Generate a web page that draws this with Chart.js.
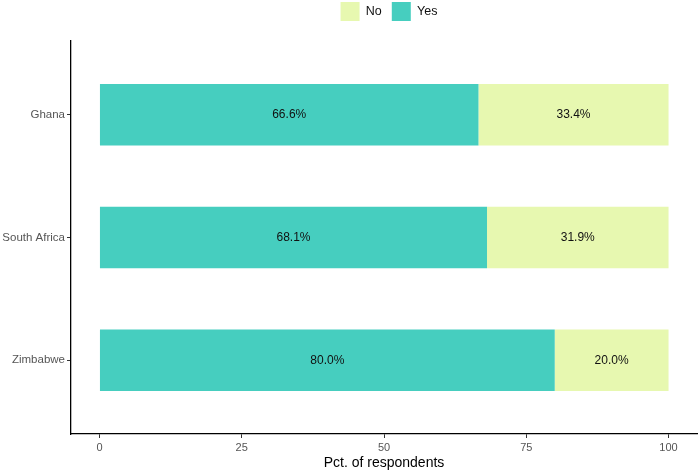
<!DOCTYPE html>
<html lang="en">
<head>
    <meta charset="UTF-8">
    <title>Pct. of respondents</title>
    <script src="https://cdn.jsdelivr.net/npm/chart.js"></script>
    <style>
        html, body { margin: 0; padding: 0; background: #fff; }
        #wrap { width: 699px; height: 470px; }
    </style>
</head>
<body>
    <div id="wrap"><canvas id="chart"></canvas></div>

    <script>
        // data
        const countries = ['Ghana', 'South Africa', 'Zimbabwe'];
        const yesPct = [66.6, 68.1, 80.0];
        const noPct = [33.4, 31.9, 20.0];
        const xTicks = [0, 25, 50, 75, 100];

        const yesColor = '#46CEBF';
        const noColor = '#E7F8B0';
        const font = '"Liberation Sans", Arial, sans-serif';

        // positions 1..3 on a linear axis so spacing matches ggplot's discrete expansion
        const toPoints = vals => vals.map((v, i) => ({ y: i + 1, x: v }));

        // write the percentage inside every segment
        const barText = {
            id: 'barText',
            afterDatasetsDraw(chart) {
                const ctx = chart.ctx;
                ctx.save();
                ctx.font = '12px ' + font;
                ctx.fillStyle = '#111';
                ctx.textAlign = 'center';
                ctx.textBaseline = 'middle';
                chart.data.datasets.forEach((ds, di) => {
                    chart.getDatasetMeta(di).data.forEach((bar, i) => {
                        const p = bar.getCenterPoint();
                        ctx.fillText(ds.data[i].x.toFixed(1) + '%', p.x, p.y);
                    });
                });
                ctx.restore();
            }
        };

        // ggplot centres the legend over the panel and keeps it close to the top
        const legendPlace = {
            id: 'legendPlace',
            afterLayout(chart) {
                const lg = chart.legend;
                const shift = (chart.chartArea.left + chart.chartArea.right) / 2 - (lg.left + lg.right) / 2 + 5;
                lg.left += shift;
                lg.right += shift;
                lg.top -= 10;
                lg.bottom -= 10;
            }
        };

        new Chart(document.getElementById('chart'), {
            type: 'bar',
            data: {
                datasets: [
                    { label: 'Yes', data: toPoints(yesPct), backgroundColor: yesColor,
                      barPercentage: 0.5, categoryPercentage: 1 },
                    { label: 'No', data: toPoints(noPct), backgroundColor: noColor,
                      barPercentage: 0.5, categoryPercentage: 1 }
                ]
            },
            options: {
                indexAxis: 'y',
                responsive: true,
                maintainAspectRatio: false,
                animation: false,
                layout: { padding: { top: 2, right: 2, bottom: 0, left: 0 } },
                plugins: {
                    legend: {
                        position: 'top',
                        labels: {
                            boxWidth: 19,
                            boxHeight: 19,
                            padding: 10,
                            color: '#111',
                            font: { size: 12.5, family: font },
                            sort: (a, b) => b.datasetIndex - a.datasetIndex
                        }
                    },
                    tooltip: { enabled: false }
                },
                scales: {
                    x: {
                        type: 'linear',
                        stacked: true,
                        min: -5,
                        max: 105,
                        afterBuildTicks: s => { s.ticks = xTicks.map(v => ({ value: v })); },
                        afterFit: s => { s.height = 36; },
                        grid: { drawOnChartArea: false, tickLength: 4, color: '#333' },
                        border: { display: true, color: '#000', width: 1.3 },
                        ticks: {
                            color: '#555',
                            padding: 3,
                            font: { size: 11, family: font }
                        },
                        title: {
                            display: true,
                            text: 'Pct. of respondents',
                            color: '#000',
                            padding: { top: 0, bottom: 0 },
                            font: { size: 14, family: font, lineHeight: 1 }
                        }
                    },
                    y: {
                        type: 'linear',
                        stacked: true,
                        reverse: true,
                        offset: false,
                        min: 0.4,
                        max: 3.6,
                        afterBuildTicks: s => { s.ticks = countries.map((c, i) => ({ value: i + 1 })); },
                        afterFit: s => { s.width = 71; },
                        grid: { offset: false, drawOnChartArea: false, tickLength: 4, color: '#333' },
                        border: { display: true, color: '#000', width: 1.3 },
                        ticks: {
                            color: '#555',
                            padding: 2,
                            font: { size: 11.5, family: font },
                            callback: v => countries[Math.round(v) - 1]
                        }
                    }
                }
            },
            plugins: [barText, legendPlace]
        });
    </script>
</body>
</html>
